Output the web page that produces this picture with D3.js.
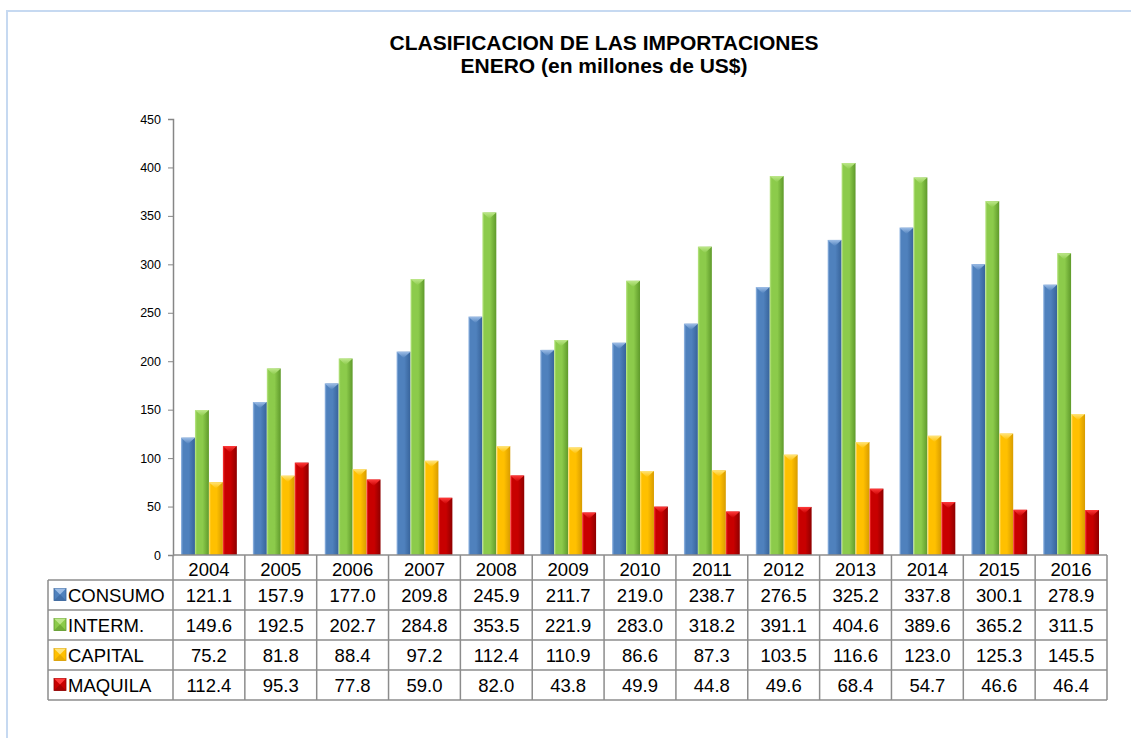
<!DOCTYPE html>
<html>
<head>
<meta charset="utf-8">
<script src="https://d3js.org/d3.v7.min.js"></script>
<style>
  body { margin: 0; background: #fff; }
  svg { display: block; font-family: "Liberation Sans", Arial, sans-serif; }
</style>
</head>
<body>
<div id="chart"></div>
<script>
const years   = ["2004","2005","2006","2007","2008","2009","2010","2011","2012","2013","2014","2015","2016"];
const consumo = [121.1,157.9,177.0,209.8,245.9,211.7,219.0,238.7,276.5,325.2,337.8,300.1,278.9];
const interm  = [149.6,192.5,202.7,284.8,353.5,221.9,283.0,318.2,391.1,404.6,389.6,365.2,311.5];
const capital = [75.2,81.8,88.4,97.2,112.4,110.9,86.6,87.3,103.5,116.6,123.0,125.3,145.5];
const maquila = [112.4,95.3,77.8,59.0,82.0,43.8,49.9,44.8,49.6,68.4,54.7,46.6,46.4];
const seriesNames = ["CONSUMO","INTERM.","CAPITAL","MAQUILA"];
const yTicks = [0,50,100,150,200,250,300,350,400,450];

const series = [consumo, interm, capital, maquila];
// base / light / dark for the bevel look
const palette = [
  {base: "#4F81BD", light: "#9DBDE6", dark: "#37639A"},
  {base: "#8CCB4B", light: "#BDE78A", dark: "#5F9A2B"},
  {base: "#FFC000", light: "#FFE47A", dark: "#D89C00"},
  {base: "#C80000", light: "#FF3A3A", dark: "#8E0000"}
];

const WIDTH = 1131, HEIGHT = 738;
const plotLeft = 173, plotRight = 1107, plotTop = 119, plotBottom = 555;
const tableLeft = 48, headerH = 25, rowH = 30;
const tableFont = 18.5;

const svg = d3.select("#chart").append("svg")
    .attr("width", WIDTH).attr("height", HEIGHT);

// outer frame (top and left edges only visible)
svg.append("path")
    .attr("d", `M7,${HEIGHT} L7,11 L${WIDTH},11`)
    .attr("fill", "none").attr("stroke", "#C6D9F1").attr("stroke-width", 2);

// title
const title = svg.append("text")
    .attr("text-anchor", "middle")
    .attr("font-weight", "bold").attr("font-size", 21).attr("fill", "#000");
title.append("tspan").attr("x", 604).attr("y", 50).text("CLASIFICACION DE LAS IMPORTACIONES");
title.append("tspan").attr("x", 604).attr("y", 73).text("ENERO (en millones de US$)");

const x0 = d3.scaleBand().domain(years).range([plotLeft, plotRight]);
const x1 = d3.scaleBand().domain(d3.range(4)).range([8, x0.bandwidth() - 8]);
const y = d3.scaleLinear().domain([0, 450]).range([plotBottom, plotTop]);

// gradients
const defs = svg.append("defs");
palette.forEach((p, i) => {
  const g = defs.append("linearGradient").attr("id", "g" + i)
      .attr("x1", 0).attr("x2", 1).attr("y1", 0).attr("y2", 0);
  g.append("stop").attr("offset", "0%").attr("stop-color", p.light);
  g.append("stop").attr("offset", "14%").attr("stop-color", p.base);
  g.append("stop").attr("offset", "55%").attr("stop-color", p.base);
  g.append("stop").attr("offset", "100%").attr("stop-color", p.dark);
  const gt = defs.append("linearGradient").attr("id", "t" + i)
      .attr("x1", 0).attr("x2", 0).attr("y1", 0).attr("y2", 1);
  gt.append("stop").attr("offset", "0%").attr("stop-color", p.light);
  gt.append("stop").attr("offset", "100%").attr("stop-color", p.base);
});

// y axis
const yAxis = svg.append("g")
    .attr("transform", `translate(${plotLeft},0)`)
    .call(d3.axisLeft(y).tickValues(yTicks).tickSize(5).tickPadding(7));
yAxis.select(".domain").attr("stroke", "#868686").attr("stroke-width", 1.5);
yAxis.selectAll(".tick line").attr("stroke", "#868686");
yAxis.selectAll(".tick text").attr("font-size", 12.5).attr("fill", "#000")
    .attr("font-family", "Liberation Sans, Arial, sans-serif");

// bars
const groups = svg.selectAll("g.year")
  .data(years)
  .join("g").attr("class", "year")
  .attr("transform", d => `translate(${x0(d)},0)`);

series.forEach((vals, si) => {
  const w = x1.bandwidth();
  groups.append("rect")
      .attr("x", x1(si))
      .attr("y", (d, i) => y(vals[i]))
      .attr("width", w)
      .attr("height", (d, i) => y(0) - y(vals[i]))
      .attr("fill", `url(#g${si})`);
  groups.append("path")
      .attr("d", (d, i) => {
        const bx = x1(si), by = y(vals[i]), th = w * 0.45;
        return `M${bx},${by} L${bx + w},${by} L${bx + w / 2},${by + th} Z`;
      })
      .attr("fill", `url(#t${si})`);
});

// data table
const tableBottom = plotBottom + headerH + rowH * 4;
const gridColor = "#8C8C8C";
const table = svg.append("g");

table.append("line")
    .attr("x1", plotLeft).attr("x2", plotRight)
    .attr("y1", plotBottom).attr("y2", plotBottom)
    .attr("stroke", gridColor).attr("stroke-width", 1.5);
d3.range(5).forEach(r => {
  const yy = plotBottom + headerH + r * rowH;
  table.append("line")
      .attr("x1", tableLeft).attr("x2", plotRight)
      .attr("y1", yy).attr("y2", yy)
      .attr("stroke", gridColor).attr("stroke-width", 1.5);
});
years.forEach(yr => {
  table.append("line")
      .attr("x1", x0(yr)).attr("x2", x0(yr))
      .attr("y1", plotBottom).attr("y2", tableBottom)
      .attr("stroke", gridColor).attr("stroke-width", 1.5);
});
table.append("line")
    .attr("x1", plotRight).attr("x2", plotRight)
    .attr("y1", plotBottom).attr("y2", tableBottom)
    .attr("stroke", gridColor).attr("stroke-width", 1.5);
table.append("line")
    .attr("x1", tableLeft).attr("x2", tableLeft)
    .attr("y1", plotBottom + headerH).attr("y2", tableBottom)
    .attr("stroke", gridColor).attr("stroke-width", 1.5);

// year headers
table.selectAll("text.yr")
  .data(years)
  .join("text").attr("class", "yr")
  .attr("x", d => x0(d) + x0.bandwidth() / 2)
  .attr("y", plotBottom + headerH - 4)
  .attr("text-anchor", "middle").attr("font-size", tableFont)
  .text(d => d);

const fmt = d3.format(".1f");
series.forEach((vals, si) => {
  const yy = plotBottom + headerH + si * rowH + rowH / 2 + 6.5;
  table.selectAll("text.v" + si)
    .data(vals)
    .join("text").attr("class", "v" + si)
    .attr("x", (d, i) => x0(years[i]) + x0.bandwidth() / 2)
    .attr("y", yy)
    .attr("text-anchor", "middle").attr("font-size", tableFont)
    .text(d => fmt(d));

  // legend key
  const kx = tableLeft + 6, ky = yy - 13, ks = 12;
  const p = palette[si];
  table.append("rect").attr("x", kx).attr("y", ky).attr("width", ks).attr("height", ks)
      .attr("fill", p.base).attr("stroke", p.dark).attr("stroke-width", 0.8);
  table.append("path")
      .attr("d", `M${kx},${ky} L${kx + ks},${ky} L${kx + ks / 2},${ky + ks / 2} Z`)
      .attr("fill", p.light);
  table.append("path")
      .attr("d", `M${kx},${ky + ks} L${kx + ks},${ky + ks} L${kx + ks / 2},${ky + ks / 2} Z`)
      .attr("fill", p.dark).attr("opacity", 0.6);
  table.append("text")
      .attr("x", kx + ks + 2).attr("y", yy)
      .attr("font-size", tableFont)
      .text(seriesNames[si]);
});
</script>
</body>
</html>
